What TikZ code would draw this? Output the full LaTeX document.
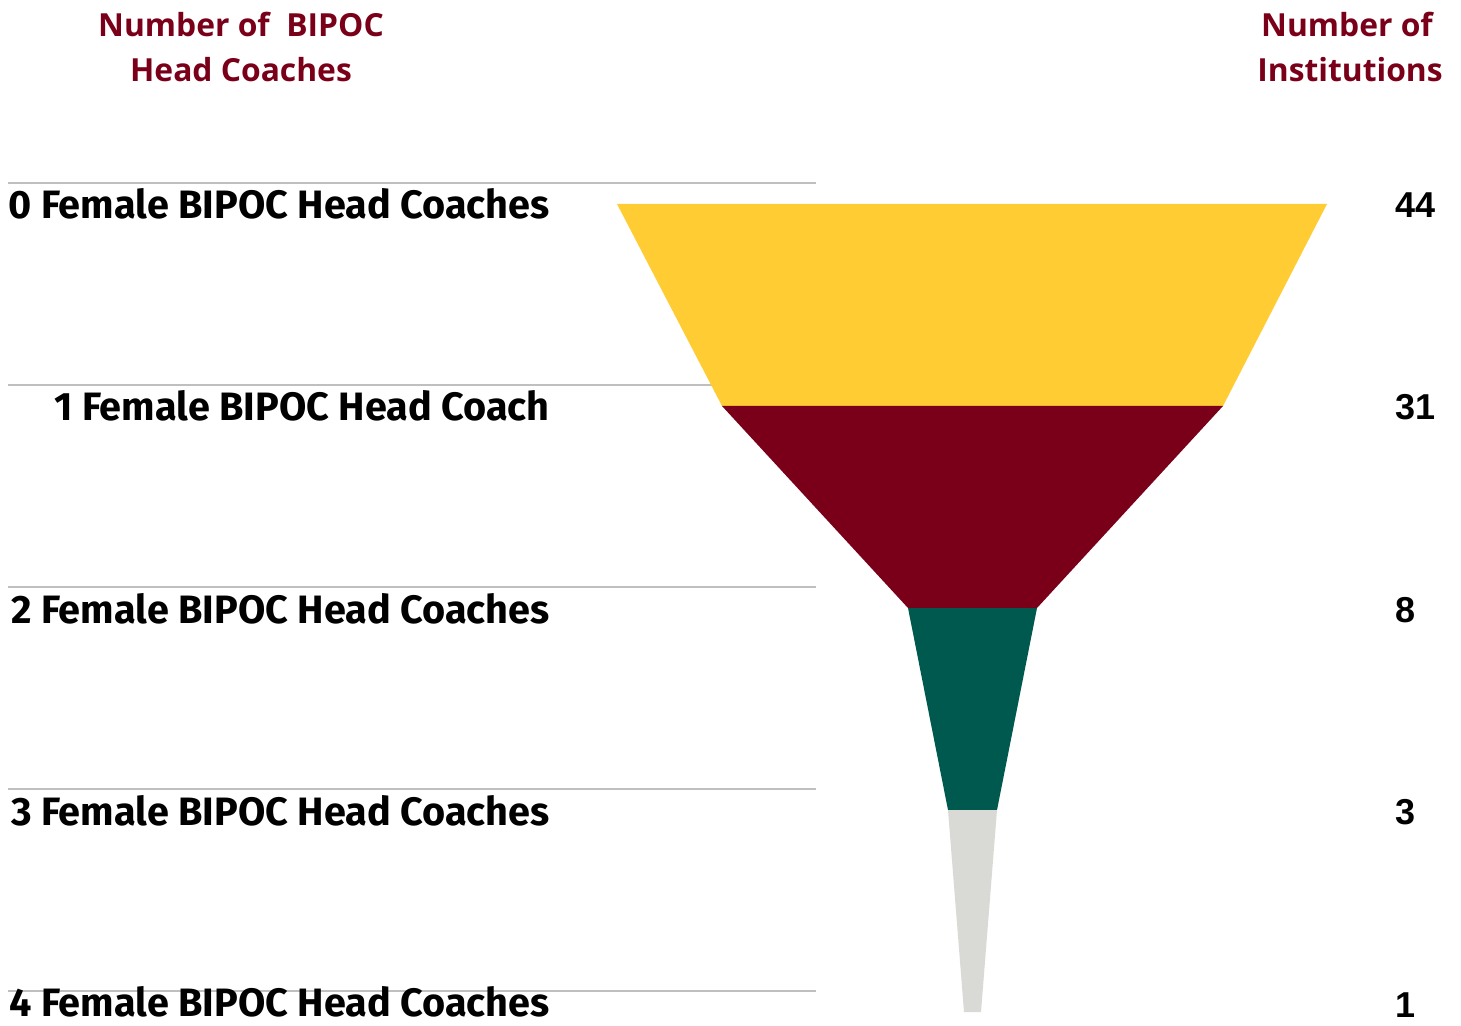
\documentclass[tikz,border=0pt]{standalone}
\usepackage{fontspec}
\setmainfont{Fira Sans}
\newfontfamily\hdrfont{Open Sans}
\newfontfamily\numfont{Liberation Sans}
\definecolor{maroon}{HTML}{7A0019}
\definecolor{gold}{HTML}{FFCC33}
\definecolor{pine}{HTML}{00594F}
\definecolor{stone}{HTML}{D9D9D6}
\definecolor{rule}{HTML}{BFBFBF}
\tikzset{
  hdr/.style={font=\hdrfont\bfseries\fontsize{15.9}{19}\selectfont, text=maroon, align=center, inner sep=0pt},
  lbl/.style={font=\fontsize{19.8}{24}\selectfont\bfseries, anchor=base east, inner sep=0pt},
  num/.style={font=\numfont\bfseries\fontsize{18}{22}\selectfont, anchor=base west, inner sep=0pt},
  sep/.style={draw=rule, line width=1pt},
}
\begin{document}
\begin{tikzpicture}[x=0.5pt,y=-0.5pt]
\useasboundingbox (0,0) rectangle (1461,1026);
% separator lines
\foreach \yy/\nm in {183/a,385/b,587/c,789/d,991/e}{
  \coordinate (l\nm) at (8,\yy);
  \coordinate (r\nm) at (816,\yy);
  \draw[sep] (l\nm) -- (r\nm);
}
% funnel
\fill[gold]  (617,204) -- (1327,204) -- (1223,406) -- (722,406) -- cycle;
\fill[maroon] (722,406) -- (1223,406) -- (1037,608) -- (908,608) -- cycle;
\fill[pine] (908,608) -- (1037,608) -- (997,810) -- (948,810) -- cycle;
\fill[stone] (948,810) -- (997,810) -- (981,1012) -- (964,1012) -- cycle;
% headers
\node[hdr, anchor=base] (h1) at (241,37) {Number of\ \ BIPOC};
\node[hdr, anchor=base] (h2) at (241,82) {Head Coaches};
\node[hdr, anchor=base] (h3) at (1347,37) {Number of};
\node[hdr, anchor=base] (h4) at (1350,82) {Institutions};
% labels
\node[lbl] (t0) at (550,219) {0 Female BIPOC Head Coaches};
\node[lbl] (t1) at (550,421) {1 Female BIPOC Head Coach};
\node[lbl] (t2) at (550,623) {2 Female BIPOC Head Coaches};
\node[lbl] (t3) at (550,825) {3 Female BIPOC Head Coaches};
\node[lbl] (t4) at (550,1016) {4 Female BIPOC Head Coaches};
% numbers
\node[num] (n0) at (1395,218) {44};
\node[num] (n1) at (1395,420) {31};
\node[num] (n2) at (1395,622) {8};
\node[num] (n3) at (1395,824) {3};
\node[num] (n4) at (1395,1017) {1};
\end{tikzpicture}
\end{document}
